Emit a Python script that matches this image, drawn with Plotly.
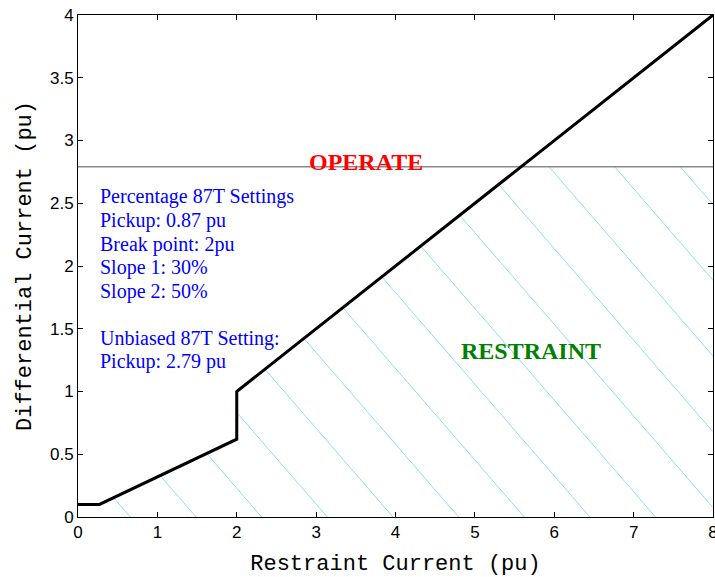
import numpy as np
import plotly.graph_objects as go

# Percentage-differential characteristic (restraint current vs. differential current, pu)
curve_x = [0.0, 0.27, 2.0, 2.0, 8.0]
curve_y = [0.1, 0.1, 0.62, 1.0, 4.0]

# Unbiased (instantaneous) pickup level
unbiased_pickup = 2.79

x_ticks = [0, 1, 2, 3, 4, 5, 6, 7, 8]
y_ticks = [0, 0.5, 1, 1.5, 2, 2.5, 3, 3.5, 4]

settings_lines = [
    "Percentage 87T Settings",
    "Pickup: 0.87 pu",
    "Break point: 2pu",
    "Slope 1: 30%",
    "Slope 2: 50%",
    "",
    "Unbiased 87T Setting:",
    "Pickup: 2.79 pu",
]

# Hatch style for the restraint region
HATCH_SLOPE = 0.73      # dy/dx in data units (lines fall to the right)
HATCH_SPACING = 0.827   # spacing of the x-axis crossings
HATCH_OFFSET = 0.66
X_MAX, Y_MAX = 8.0, 4.0


def restraint_boundary(x):
    return np.interp(x, curve_x, curve_y)


# Build clipped hatch segments: below the characteristic and below the unbiased level
hx, hy = [], []
grid = np.linspace(0, X_MAX, 8001)
fgrid = restraint_boundary(grid)
x0 = HATCH_OFFSET
while x0 - unbiased_pickup / HATCH_SLOPE < X_MAX:
    line = HATCH_SLOPE * (x0 - grid)
    inside = np.nonzero(line <= fgrid)[0]
    if inside.size:
        start = max(grid[inside[0]], x0 - unbiased_pickup / HATCH_SLOPE, 0.0)
        end = min(x0, X_MAX)
        if start < end:
            hx += [start, end, None]
            hy += [HATCH_SLOPE * (x0 - start), HATCH_SLOPE * (x0 - end), None]
    x0 += HATCH_SPACING

fig = go.Figure()

fig.add_trace(go.Scatter(
    x=hx, y=hy, mode="lines",
    line=dict(color="rgb(140,222,245)", width=1),
    hoverinfo="skip", showlegend=False,
))

fig.add_trace(go.Scatter(
    x=[0, X_MAX], y=[unbiased_pickup, unbiased_pickup], mode="lines",
    line=dict(color="#8a8a8a", width=1.5),
    showlegend=False,
))

fig.add_trace(go.Scatter(
    x=curve_x, y=curve_y, mode="lines",
    line=dict(color="black", width=3),
    showlegend=False,
))

annotations = [
    dict(x=3.63, y=2.83, text="<b>OPERATE</b>", showarrow=False,
         font=dict(family="Liberation Serif", size=24, color="red")),
    dict(x=5.71, y=1.32, text="<b>RESTRAINT</b>", showarrow=False,
         font=dict(family="Liberation Serif", size=24, color="green")),
]

line_y = 2.55
for txt in settings_lines:
    if txt:
        annotations.append(dict(
            x=0.25, y=line_y, text=txt, showarrow=False,
            xanchor="left", yanchor="middle",
            font=dict(family="Liberation Serif", size=20, color="blue"),
        ))
    line_y -= 0.1875

axis_common = dict(
    showgrid=False, zeroline=False, automargin=False,
    showline=True, linecolor="black", linewidth=1, mirror="ticks",
    ticks="inside", ticklen=5, tickcolor="black", tickwidth=1,
    ticklabeloverflow="allow",
    tickfont=dict(family="Liberation Sans", size=17, color="black"),
)

fig.update_layout(
    width=715, height=577,
    margin=dict(l=78, r=2, t=15, b=60),
    paper_bgcolor="white", plot_bgcolor="white",
    annotations=annotations,
    xaxis=dict(range=[0, X_MAX], tickvals=x_ticks, ticktext=[str(v) for v in x_ticks],
               title=dict(text="Restraint Current (pu)", standoff=13,
                          font=dict(family="Liberation Mono", size=22, color="black")),
               **axis_common),
    yaxis=dict(range=[0, Y_MAX], tickvals=y_ticks, ticktext=[f"{v:g}" for v in y_ticks],
               title=dict(text="Differential Current (pu)", standoff=12,
                          font=dict(family="Liberation Mono", size=22, color="black")),
               **axis_common),
)

fig.write_html("out.html")
